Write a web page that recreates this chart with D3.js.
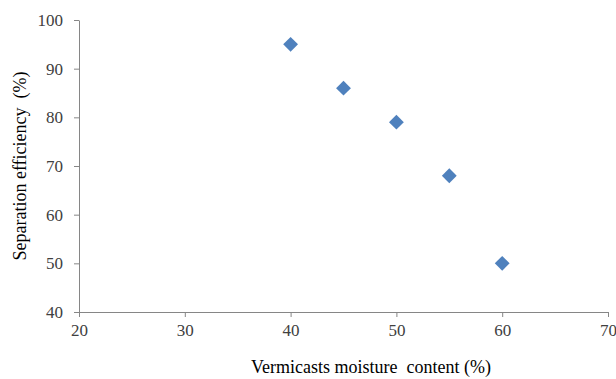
<!DOCTYPE html>
<html>
<head>
<meta charset="utf-8">
<script src="https://cdn.jsdelivr.net/npm/d3@7"></script>
</head>
<body style="margin:0">
<script>
// data
var moisture = [40, 45, 50, 55, 60];
var efficiency = [95, 86, 79, 68, 50];
var xTicks = [20, 30, 40, 50, 60, 70];
var yTicks = [40, 50, 60, 70, 80, 90, 100];

var width = 616, height = 379;
var margin = {top: 20, right: 8, bottom: 67, left: 79};

var svg = d3.select("body").append("svg")
    .attr("width", width)
    .attr("height", height)
    .attr("font-family", "Liberation Serif")
    .style("font-family", "'Times New Roman'");

var x = d3.scaleLinear().domain([20, 70]).range([margin.left, width - margin.right]);
var y = d3.scaleLinear().domain([40, 100]).range([height - margin.bottom, margin.top]);

// x axis
var xAxis = svg.append("g")
    .attr("transform", "translate(0," + y(40) + ")")
    .call(d3.axisBottom(x).tickValues(xTicks).tickSize(5).tickPadding(7).tickSizeOuter(0));
// y axis
var yAxis = svg.append("g")
    .attr("transform", "translate(" + x(20) + ",0)")
    .call(d3.axisLeft(y).tickValues(yTicks).tickSize(5).tickPadding(11).tickSizeOuter(0));

[xAxis, yAxis].forEach(function(a) {
    a.attr("font-family", "Liberation Serif").attr("font-size", 17)
        .style("font-family", "'Times New Roman'");
    a.selectAll("path, line").attr("stroke", "#868686").attr("stroke-width", 1);
    a.selectAll("text")
        .attr("fill", "#404040")
        .attr("font-family", "Liberation Serif")
        .style("font-family", "'Times New Roman'");
});

// markers
var diamond = d3.symbol().type(d3.symbolSquare).size(110);
svg.selectAll(".pt")
    .data(moisture)
    .enter().append("path")
    .attr("class", "pt")
    .attr("d", diamond)
    .attr("fill", "#4F81BD")
    .attr("transform", function(d, i) {
        return "translate(" + x(d) + "," + y(efficiency[i]) + ") rotate(45)";
    });

// axis titles
svg.append("text")
    .attr("x", 371)
    .attr("y", 373)
    .attr("text-anchor", "middle")
    .attr("fill", "#000")
    .attr("font-size", 18)
    .attr("font-family", "Liberation Serif")
    .style("font-family", "'Times New Roman'")
    .text("Vermicasts moisture\u00a0 content (%)");

svg.append("text")
    .attr("transform", "translate(26," + ((y(40) + y(100)) / 2) + ") rotate(-90)")
    .attr("text-anchor", "middle")
    .attr("fill", "#000")
    .attr("font-size", 18)
    .attr("font-family", "Liberation Serif")
    .style("font-family", "'Times New Roman'")
    .text("Separation efficiency\u00a0 (%)");
</script>
</body>
</html>
